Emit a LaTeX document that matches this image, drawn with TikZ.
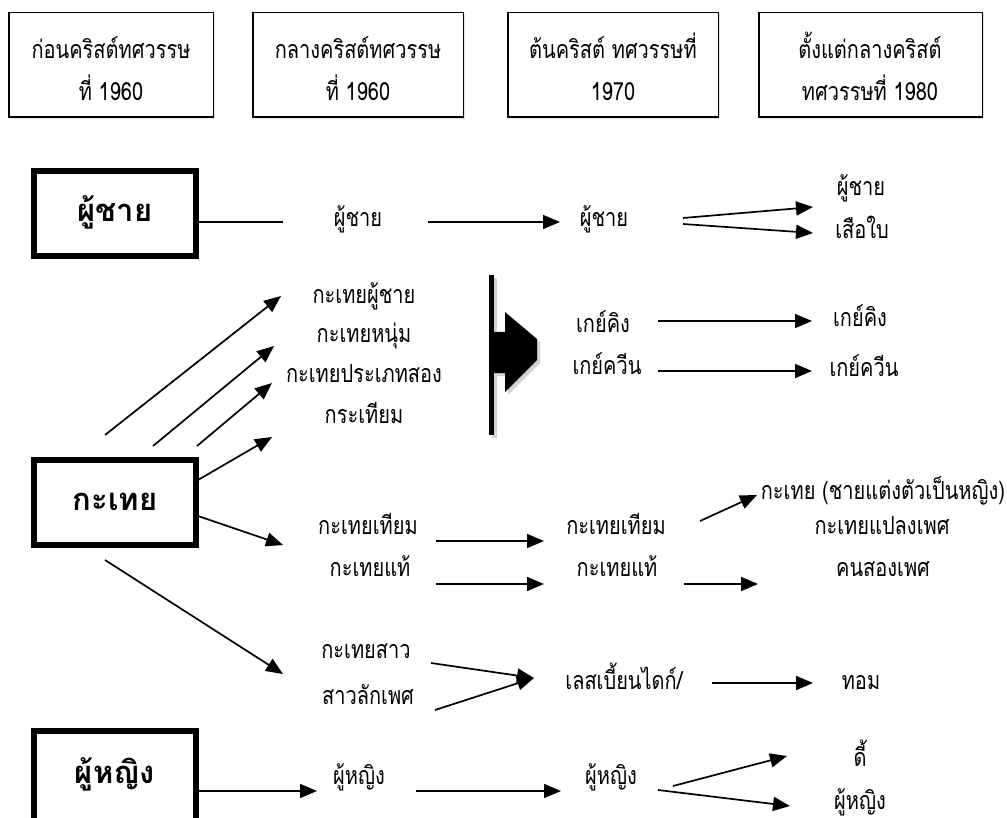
\documentclass[tikz,border=0pt]{standalone}
\usepackage{fontspec}
\newfontfamily\thai[Script=Thai,FakeStretch=0.8]{Loma}
\newfontfamily\thaib[Script=Thai]{Loma}
\usetikzlibrary{arrows.meta,shadows}
\newcommand\thaismall{\thai\fontsize{25}{28}\selectfont}
\newcommand\thaibig{\thaib\bfseries\fontsize{31}{34}\selectfont}
\begin{document}
\begin{tikzpicture}[x=1pt,y=-1pt,
  topbox/.style={draw, fill=white, line width=1.5pt, inner sep=0pt,
     drop shadow={shadow xshift=1.5pt, shadow yshift=-1.5pt, fill=gray!45}},
  txt/.style={font=\thaismall, inner sep=0pt, text height=12pt, text depth=0pt},
  bigbox/.style={draw, line width=6pt, inner sep=0pt, minimum width=162pt,
     minimum height=85pt, font=\thaibig, text height=16pt, text depth=0pt},
  conn/.style={line width=1.7pt, -{Triangle[length=17pt,width=14pt]}},
  plainline/.style={line width=1.7pt}]
\useasboundingbox (0,0) rectangle (1007,818);
\clip (0,0) rectangle (1007,818);

% top period boxes
\node[topbox, minimum width=204.5pt, minimum height=104.5pt] (t1) at (111,65) {};
\node[topbox, minimum width=210.5pt, minimum height=104.5pt] (t2) at (358,65) {};
\node[topbox, minimum width=210.5pt, minimum height=104.5pt] (t3) at (613,65) {};
\node[topbox, minimum width=223.5pt, minimum height=104.5pt] (t4) at (870.5,65) {};
\node[txt] (t1a) at (111,53) {ก่อนคริสต์ทศวรรษ};
\node[txt] (t1b) at (111,95) {ที่ 1960};
\node[txt] (t2a) at (358,53) {กลางคริสต์ทศวรรษ};
\node[txt] (t2b) at (358,95) {ที่ 1960};
\node[txt] (t3a) at (613,53) {ต้นคริสต์ ทศวรรษที่};
\node[txt] (t3b) at (613,95) {1970};
\node[txt] (t4a) at (870,53) {ตั้งแต่กลางคริสต์};
\node[txt] (t4b) at (870,95) {ทศวรรษที่ 1980};

% left category boxes
\node[bigbox] (men) at (115,213.5) {ผู้ชาย};
\node[bigbox] (kat) at (115,502) {กะเทย};
\node[bigbox, minimum height=100pt, text depth=12pt] (wom) at (115,781) {ผู้หญิง};

% men row
\node[txt] (m1) at (358,221) {ผู้ชาย};
\node[txt] (m2) at (604,221) {ผู้ชาย};
\node[txt] (m3) at (861,190) {ผู้ชาย};
\node[txt] (m4) at (862,233) {เสือใบ};
\coordinate (m0e) at (283,222);
\draw[plainline] (men.east |- m0e) -- (m0e);
\coordinate (m1s) at (428,222); \coordinate (m1e) at (560,222);
\draw[conn] (m1s) -- (m1e);
\coordinate (m2s) at (683,218); \coordinate (m2e) at (813,207);
\draw[conn] (m2s) -- (m2e);
\coordinate (m3s) at (683,224); \coordinate (m3e) at (813,233);
\draw[conn] (m3s) -- (m3e);

% kathoey upper group
\node[txt] (k1) at (364,298) {กะเทยผู้ชาย};
\node[txt] (k2) at (364,337) {กะเทยหนุ่ม};
\node[txt] (k3) at (364,376) {กะเทยประเภทสอง};
\node[txt] (k4) at (364,417) {กระเทียม};
\coordinate (l1s) at (105,435); \coordinate (l1e) at (281,296);
\draw[conn] (l1s) -- (l1e);
\coordinate (l2s) at (153,446); \coordinate (l2e) at (274,346);
\draw[conn] (l2s) -- (l2e);
\coordinate (l3s) at (197,446); \coordinate (l3e) at (272,383);
\draw[conn] (l3s) -- (l3e);
\coordinate (a1s) at (198,480); \coordinate (a1e) at (272,437);
\draw[conn] (a1s) -- (a1e);

% block arrow with bar
\fill[gray!35] (492,278) rectangle (497,438);
\fill[gray!35] (497,335) -- (508,335) -- (508,315) -- (540,342) -- (540,363) -- (508,395) -- (508,376) -- (497,376) -- cycle;
\fill[black] (489,275) rectangle (494,435);
\fill[black] (494,332) -- (505,332) -- (505,312) -- (537,339) -- (537,360) -- (505,392) -- (505,373) -- (494,373) -- cycle;

\node[txt] (g1) at (603,327) {เกย์คิง};
\node[txt] (g2) at (607,368) {เกย์ควีน};
\node[txt] (g3) at (860,321) {เกย์คิง};
\node[txt] (g4) at (864,371) {เกย์ควีน};
\coordinate (g1s) at (658,321); \coordinate (g1e) at (812,321);
\draw[conn] (g1s) -- (g1e);
\coordinate (g2s) at (658,371); \coordinate (g2e) at (812,371);
\draw[conn] (g2s) -- (g2e);

% kathoey middle group
\coordinate (a2s) at (198,516); \coordinate (a2e) at (283,545);
\draw[conn] (a2s) -- (a2e);
\node[txt] (f1) at (368,528) {กะเทยเทียม};
\node[txt] (f2) at (370,570) {กะเทยแท้};
\node[txt] (f3) at (616,528) {กะเทยเทียม};
\node[txt] (f4) at (617,570) {กะเทยแท้};
\node[txt] (f5) at (883,493) {กะเทย (ชายแต่งตัวเป็นหญิง)};
\node[txt] (f6) at (882,528) {กะเทยแปลงเพศ};
\node[txt] (f7) at (883,570) {คนสองเพศ};
\coordinate (f1s) at (436,541); \coordinate (f1e) at (544,541);
\draw[conn] (f1s) -- (f1e);
\coordinate (f2s) at (436,584); \coordinate (f2e) at (544,584);
\draw[conn] (f2s) -- (f2e);
\coordinate (f3s) at (700,521); \coordinate (f3e) at (757,495);
\draw[conn] (f3s) -- (f3e);
\coordinate (f4s) at (684,584); \coordinate (f4e) at (758,584);
\draw[conn] (f4s) -- (f4e);

% kathoey lower group
\coordinate (a3s) at (105,560); \coordinate (a3e) at (283,674);
\draw[conn] (a3s) -- (a3e);
\node[txt] (s1) at (366,652) {กะเทยสาว};
\node[txt] (s2) at (368,698) {สาวลักเพศ};
\node[txt] (s3) at (624,683) {เลสเบี้ยนไดก์/};
\node[txt] (s4) at (861,683) {ทอม};
\coordinate (s1s) at (431,663); \coordinate (s12e) at (534,678);
\draw[conn] (s1s) -- (s12e);
\coordinate (s2s) at (435,710);
\draw[conn] (s2s) -- (s12e);
\coordinate (s3s) at (712,683); \coordinate (s3e) at (813,683);
\draw[conn] (s3s) -- (s3e);

% women row
\node[txt] (w1) at (359,778) {ผู้หญิง};
\node[txt] (w2) at (611,778) {ผู้หญิง};
\node[txt] (w3) at (860,760) {ดี้};
\node[txt] (w4) at (860,803) {ผู้หญิง};
\coordinate (w0e) at (317,791);
\draw[conn] (wom.east |- w0e) -- (w0e);
\coordinate (w1s) at (416,791); \coordinate (w1e) at (561,791);
\draw[conn] (w1s) -- (w1e);
\coordinate (w2s) at (673,786); \coordinate (w2e) at (787,756);
\draw[conn] (w2s) -- (w2e);
\coordinate (w3s) at (658,790); \coordinate (w3e) at (790,806);
\draw[conn] (w3s) -- (w3e);
\end{tikzpicture}
\end{document}
